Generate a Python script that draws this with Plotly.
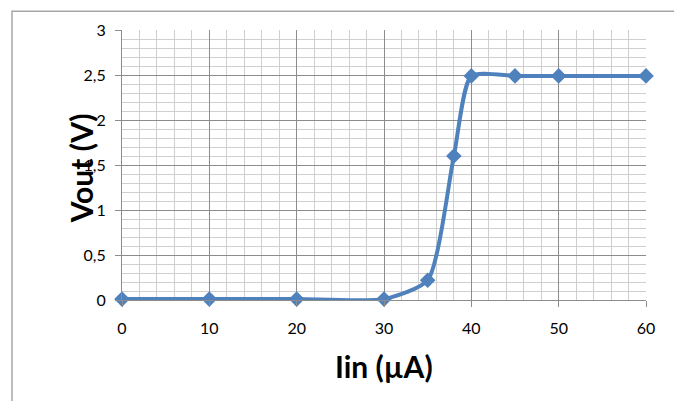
import plotly.graph_objects as go

iin = [0, 10, 20, 30, 35, 38, 40, 45, 50, 60]
vout = [0.01, 0.01, 0.01, 0.01, 0.22, 1.6, 2.49, 2.49, 2.49, 2.49]
x_ticks = [0, 10, 20, 30, 40, 50, 60]
y_ticks = [0, 0.5, 1, 1.5, 2, 2.5, 3]
y_tick_text = ["0", "0,5", "1", "1,5", "2", "2,5", "3"]
x_title = "<b>Iin (µA)</b>"
y_title = "<b>Vout (V)</b>"

W, H = 682, 401
OFF = 8  # page body margin offset
# desired plot area in page pixels: x 122..646, y 27..300
L = 122 - OFF
T = 27 - OFF
R = W - (646 - OFF)
B = H - (300 - OFF)

fig = go.Figure()
fig.add_trace(go.Scatter(
    x=iin, y=vout, mode="lines+markers",
    line=dict(color="#4F81BD", width=4, shape="spline", smoothing=0.6),
    marker=dict(symbol="diamond", size=12, color="#4F81BD"),
    showlegend=False, cliponaxis=False,
))

font = "Lato, Calibri, 'Open Sans', sans-serif"
pw = W - L - R
ph = H - T - B

def px_to_paper_x(px):
    return (px - OFF - L) / pw

def px_to_paper_y(py):
    return (H - B - (py - OFF)) / ph

fig.add_shape(type="rect", xref="paper", yref="paper",
              x0=px_to_paper_x(12), x1=px_to_paper_x(675),
              y0=px_to_paper_y(420), y1=px_to_paper_y(8),
              line=dict(color="#A6A6A6", width=1.5), layer="below")

fig.add_annotation(text=x_title, xref="paper", yref="paper",
                   x=px_to_paper_x(384), y=px_to_paper_y(367),
                   xanchor="center", yanchor="middle", showarrow=False,
                   font=dict(size=30, family=font, color="#000000"))
pad = "\u00a0" * 6
fig.add_annotation(text=pad + y_title + pad, xref="paper", yref="paper",
                   x=px_to_paper_x(81), y=px_to_paper_y(167),
                   xanchor="center", yanchor="middle", showarrow=False,
                   textangle=-90,
                   font=dict(size=30, family=font, color="#000000"))

fig.update_layout(
    width=W, height=H,
    margin=dict(l=L, r=R, t=T, b=B),
    paper_bgcolor="white", plot_bgcolor="white",
    separators=", ",
    font=dict(family=font, size=16, color="#000000"),
    xaxis=dict(
        range=[0, 60], tickvals=x_ticks, ticktext=[str(v) for v in x_ticks],
        showgrid=True, gridcolor="#8C8C8C", gridwidth=1,
        minor=dict(dtick=2, showgrid=True, gridcolor="#CFCFCF", gridwidth=1),
        ticks="outside", ticklen=6, tickcolor="#8C8C8C",
        showline=True, linecolor="#8C8C8C", zeroline=False,
        ticklabelstandoff=8,
    ),
    yaxis=dict(
        range=[0, 3], tickvals=y_ticks, ticktext=y_tick_text,
        showgrid=True, gridcolor="#8C8C8C", gridwidth=1,
        minor=dict(dtick=0.1, showgrid=True, gridcolor="#CFCFCF", gridwidth=1),
        ticks="outside", ticklen=6, tickcolor="#8C8C8C",
        showline=True, linecolor="#8C8C8C", zeroline=False,
        ticklabelstandoff=6,
    ),
)

fig.write_html("out.html")
